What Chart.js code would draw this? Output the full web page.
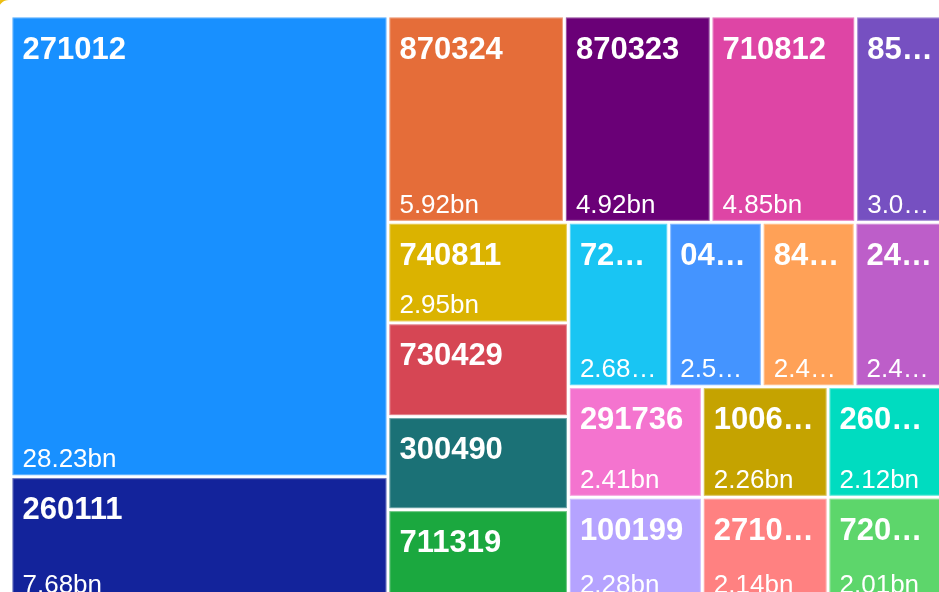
<!DOCTYPE html>
<html>
<head>
<meta charset="utf-8">
<script src="https://cdn.jsdelivr.net/npm/chart.js@4.4.1/dist/chart.umd.min.js"></script>
<style>
  html, body { margin: 0; padding: 0; background: #fff; overflow: hidden; }
  #frame { position: absolute; left: -5px; top: -3px; width: 990px; height: 640px;
           border: 3px solid #EDBE12; border-radius: 14px; }
  #wrap { position: absolute; left: 0; top: 0; width: 960px; height: 612px; }
</style>
</head>
<body>
<div id="frame"></div>
<div id="wrap"><canvas id="treemap"></canvas></div>
<script>
// HS codes and trade value in billions
const codes = ['271012', '260111', '870324', '870323', '710812', '854231', '740811',
  '730429', '300490', '711319', '720449', '040221', '847130', '240220', '291736',
  '100199', '100630', '271019', '260300', '720711'];
const values = [28.23, 7.68, 5.92, 4.92, 4.85, 3.03, 2.95,
  2.75, 2.73, 2.71, 2.68, 2.50, 2.48, 2.43, 2.41,
  2.28, 2.26, 2.14, 2.12, 2.01];
const colors = ['#1890FF', '#13239B', '#E56D39', '#6A0077', '#DE45A5', '#7650C1', '#DBB300',
  '#D64654', '#1B7176', '#1BA83F', '#19C5F3', '#4494FF', '#FFA157', '#BD5EC9', '#F474CF',
  '#B5A3FF', '#C5A300', '#FF8181', '#00DCC0', '#5DD66B'];

const GOLDEN = 0.5 * (1 + Math.sqrt(5));
const GAP = 1.5;
const PAD = 10;
const MIN_H_FOR_VALUE = 95;

function worst(row, side, ratio) {
  let sum = 0, max = 0, min = Infinity;
  row.forEach(n => {
    sum += n.area;
    max = Math.max(max, n.area);
    min = Math.min(min, n.area);
  });
  const f = side * side * ratio;
  const s2 = sum * sum;
  return Math.max(f * max / s2, s2 / (f * min));
}

function squarify(nodes, rect, ratio) {
  const out = [];
  const rest = nodes.slice();
  let r = Object.assign({}, rect);
  while (rest.length) {
    const side = Math.min(r.w, r.h);
    const row = [rest.shift()];
    let best = worst(row, side, ratio);
    while (rest.length) {
      row.push(rest[0]);
      const w = worst(row, side, ratio);
      if (w <= best) { best = w; rest.shift(); } else { row.pop(); break; }
    }
    const sum = row.reduce((a, n) => a + n.area, 0);
    if (r.w <= r.h) {
      // strip across the top
      const rowH = sum / r.w;
      let x = r.x;
      row.forEach(n => { const w = n.area / rowH; out.push({ node: n, x, y: r.y, w, h: rowH }); x += w; });
      r = { x: r.x, y: r.y + rowH, w: r.w, h: r.h - rowH };
    } else {
      // strip down the left side
      const colW = sum / r.h;
      let y = r.y;
      row.forEach(n => { const h = n.area / colW; out.push({ node: n, x: r.x, y, w: colW, h }); y += h; });
      r = { x: r.x + colW, y: r.y, w: r.w - colW, h: r.h };
    }
  }
  return out;
}

function fit(ctx, text, maxW) {
  if (ctx.measureText(text).width <= maxW) return text;
  let s = text;
  while (s.length && ctx.measureText(s + '\u2026').width > maxW) s = s.slice(0, -1);
  return s + '\u2026';
}

const treemapPlugin = {
  id: 'treemap',
  afterDatasetsDraw(chart) {
    const ctx = chart.ctx;
    const xs = chart.scales.x, ys = chart.scales.y;
    const x0 = xs.getPixelForValue(0), x1 = xs.getPixelForValue(1);
    const y0 = ys.getPixelForValue(0), y1 = ys.getPixelForValue(1);
    const rect = { x: x0, y: y0, w: x1 - x0, h: y1 - y0 };
    const total = values.reduce((a, b) => a + b, 0);
    const nodes = values.map((v, i) => ({ i, v, area: v / total * rect.w * rect.h }))
      .sort((a, b) => b.v - a.v);
    const cells = squarify(nodes, rect, GOLDEN);

    ctx.save();
    cells.forEach(c => {
      const i = c.node.i;
      const x = c.x + GAP, y = c.y + GAP, w = c.w - 2 * GAP, h = c.h - 2 * GAP;
      ctx.fillStyle = colors[i];
      ctx.fillRect(x, y, w, h);
      ctx.strokeStyle = 'rgba(255,255,255,0.35)';
      ctx.lineWidth = 1;
      ctx.strokeRect(x + 0.5, y + 0.5, w - 1, h - 1);

      const maxW = w - 2 * PAD;
      ctx.fillStyle = '#fff';
      ctx.textBaseline = 'alphabetic';
      ctx.textAlign = 'left';
      ctx.font = 'bold 31px "Liberation Sans", Arial, sans-serif';
      ctx.fillText(fit(ctx, codes[i], maxW), x + PAD, y + 41);
      if (h >= MIN_H_FOR_VALUE) {
        ctx.font = '26px "Liberation Sans", Arial, sans-serif';
        ctx.fillText(fit(ctx, values[i].toFixed(2) + 'bn', maxW), x + PAD, y + h - 8);
      }
    });
    ctx.restore();
  }
};

new Chart(document.getElementById('treemap'), {
  type: 'scatter',
  data: { datasets: [{ data: [] }] },
  options: {
    responsive: true,
    maintainAspectRatio: false,
    animation: false,
    layout: { padding: { left: 11, top: 16, right: 14, bottom: 10 } },
    scales: {
      x: { type: 'linear', min: 0, max: 1, display: false },
      y: { type: 'linear', min: 0, max: 1, reverse: true, display: false }
    },
    plugins: { legend: { display: false }, tooltip: { enabled: false } }
  },
  plugins: [treemapPlugin]
});
</script>
</body>
</html>
